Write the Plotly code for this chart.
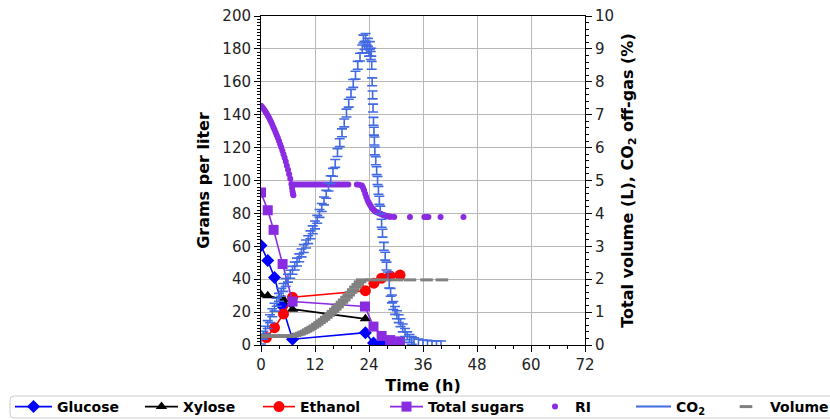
import plotly.graph_objects as go

# ---------------- data ----------------
glc_t = [0, 1.5, 3, 4.7, 7, 23.2, 25, 26.8, 28.7]
glc = [60.5, 51.4, 41, 23.8, 3.5, 7.5, 1.2, 0.4, 0.3]

xyl_t = [0, 1.5, 5, 7, 23.2]
xyl = [30.5, 30, 27.6, 21.8, 15.9]

eth_t = [1.2, 3, 5, 7, 23.2, 25.1, 26.8, 28.7, 30.9]
eth = [4.5, 10.5, 18.9, 29, 33, 37.6, 40.6, 42, 42.5]

ts_t = [0, 1.5, 2.8, 4.8, 7, 23.1, 25, 26.8, 28.7, 30.9]
ts = [92.7, 81.9, 70, 49.2, 26.4, 23.4, 11.2, 5.5, 3, 2.2]

ri_t = [0, 0.25, 0.5, 0.75, 1, 1.25, 1.5, 1.75, 2, 2.25, 2.5, 2.75, 3, 3.25, 3.5,
        3.75, 4, 4.25, 4.5, 4.75, 5, 5.25, 5.5, 5.75, 6, 6.25, 6.5, 6.75, 6.9,
        7.0, 7.1, 7.2,
        7.4, 7.9, 8.4, 8.9, 9.4, 9.9, 10.4, 10.9, 11.4, 11.9, 12.4, 12.9, 13.4,
        13.9, 14.4, 14.9, 15.4, 15.9, 16.4, 16.9, 17.4, 17.9, 18.4, 18.9, 19.4,
        21.3, 21.8,
        22.4, 22.65, 22.9, 23.15, 23.4, 23.65, 23.9, 24.15, 24.4, 24.65, 24.9,
        25.15, 25.4, 25.65, 25.9, 26.15, 26.4, 26.65, 26.9, 27.15, 27.4, 27.65,
        27.9, 28.15, 28.4, 28.65, 28.9,
        29.6, 33.1, 36.3, 36.8, 37.2, 39.9, 45.0]
ri = [145.5, 144.7, 143.8, 142.9, 141.8, 140.7, 139.5, 138.3, 137, 135.5, 134,
      132.4, 130.8, 129.2, 127.5, 125.8, 124, 122.1, 120.2, 118.1, 116, 113.8,
      111.5, 109, 106.5, 103.8, 101, 97.8, 95.5, 93.5, 92, 91,
      97.5, 97.5, 97.5, 97.5, 97.5, 97.5, 97.5, 97.5, 97.5, 97.5, 97.5, 97.5, 97.5,
      97.5, 97.5, 97.5, 97.5, 97.5, 97.5, 97.5, 97.5, 97.5, 97.5, 97.5, 97.5,
      97.5, 97.4,
      97, 95.8, 94, 92, 90, 88.3, 86.8, 85.5, 84.3, 83.3, 82.5,
      81.8, 81.2, 80.8, 80.5, 80.2, 80, 79.7, 79.4, 79.1, 78.9, 78.6,
      78.4, 78.2, 78.1, 78, 77.9,
      77.8, 77.8, 77.8, 77.8, 77.8, 77.8, 77.8]

co2_t = [0, 0.5, 1, 1.5, 2, 2.5, 3, 3.5, 4, 4.5, 5, 5.5, 6, 6.5, 7, 7.5, 8, 8.5,
         9, 9.5, 10, 10.5, 11, 11.5, 12, 12.5, 13, 13.5, 14, 14.5, 15, 15.5, 16,
         16.5, 17, 17.5, 18, 18.5, 19, 19.5, 20, 20.5, 21, 21.5, 22, 22.5, 22.75,
         23, 23.25, 23.5, 23.75, 24, 24.2, 24.4,
         24.5, 24.6, 24.7, 24.8, 24.9, 25.0, 25.1, 25.2, 25.3, 25.5, 25.7, 25.9,
         26.1, 26.3, 26.5, 26.8, 27.0, 27.3, 27.6, 27.9, 28.2, 28.5, 28.8, 29.1,
         29.4, 29.8, 30.2, 30.6, 31.0, 31.5, 32.0, 32.5, 33.0, 33.5, 34, 35, 36,
         37, 38, 39, 40]
co2 = [0.15, 0.3, 0.45, 0.62, 0.8, 0.98, 1.15, 1.3, 1.45, 1.6, 1.75, 1.9, 2.03,
       2.15, 2.27, 2.4, 2.52, 2.65, 2.8, 2.93, 3.07, 3.2, 3.35, 3.5, 3.65, 3.82,
       4.0, 4.18, 4.38, 4.58, 4.8, 5.02, 5.25, 5.52, 5.85, 6.15, 6.45, 6.75, 7.05,
       7.35, 7.65, 7.95, 8.2, 8.5, 8.75, 9.0, 9.3, 9.1, 9.35, 9.0, 9.2, 8.9, 9.1,
       8.8,
       8.9, 8.5, 8.0, 7.6, 7.2, 6.8, 6.5, 6.2, 5.9, 5.6, 5.3, 5.0,
       4.7, 4.4, 4.1, 3.7, 3.4, 3.0, 2.7, 2.4, 2.1, 1.85, 1.6, 1.4,
       1.2, 1.05, 0.92, 0.8, 0.68, 0.52, 0.38, 0.28, 0.2, 0.14, 0.1, 0.06, 0.03,
       0.02, 0.01, 0.0, 0.0]
co2_err = 0.12

vol_t = [0, 0.5, 1, 1.5, 2, 2.5, 3, 3.5, 4, 4.5, 5, 5.5, 6, 6.5, 7,
         7.5, 8, 8.5, 9, 9.5, 10, 10.5, 11, 11.5, 12, 12.5, 13, 13.5, 14, 14.5,
         15, 15.5, 16, 16.5, 17, 17.5, 18, 18.5, 19, 19.5, 20, 20.5, 21, 21.5,
         22, 22.5, 24.6, 27.2, 30.2, 33.1, 36.8, 40.2]
vol = [0.27, 0.27, 0.27, 0.27, 0.27, 0.27, 0.27, 0.27, 0.27, 0.27, 0.27, 0.27,
       0.27, 0.27, 0.27,
       0.29, 0.31, 0.33, 0.36, 0.39, 0.42, 0.46, 0.5, 0.54, 0.58, 0.63, 0.68,
       0.73, 0.78, 0.84, 0.9, 0.96, 1.02, 1.09, 1.16, 1.23, 1.3, 1.37, 1.45,
       1.52, 1.6, 1.68, 1.76, 1.84, 1.92, 1.98, 1.98, 1.98, 1.98, 1.98, 1.98, 1.98]

x_ticks = [0, 12, 24, 36, 48, 60, 72]
y_ticks = [0, 20, 40, 60, 80, 100, 120, 140, 160, 180, 200]
y2_ticks = [0, 1, 2, 3, 4, 5, 6, 7, 8, 9, 10]

# ---------------- layout geometry ----------------
FW, FH = 830, 420
ML, MR, MT, MB = 261, 245, 16, 75
PW = FW - ML - MR
PH = FH - MT - MB


def px_x(px):  # pixel -> paper x
    return (px - ML) / PW


def px_y(py):  # pixel -> paper y
    return (FH - MB - py) / PH


FONT = "DejaVu Sans"
BLUE = "#0000ff"
VIOLET = "#8a2be2"
ROYAL = "#4169e1"
GRAY = "#808080"

fig = go.Figure()

fig.add_trace(go.Scatter(x=glc_t, y=glc, name="Glucose", mode="lines+markers",
                         line=dict(color=BLUE, width=1.6),
                         marker=dict(symbol="diamond", size=10, color=BLUE),
                         legend="legend"))
fig.add_trace(go.Scatter(x=xyl_t, y=xyl, name="Xylose", mode="lines+markers",
                         line=dict(color="black", width=1.6),
                         marker=dict(symbol="triangle-up", size=10, color="black"),
                         legend="legend2"))
fig.add_trace(go.Scatter(x=eth_t, y=eth, name="Ethanol", mode="lines+markers",
                         line=dict(color="red", width=1.6),
                         marker=dict(symbol="circle", size=11, color="red"),
                         legend="legend3"))
fig.add_trace(go.Scatter(x=ts_t, y=ts, name="Total sugars", mode="lines+markers",
                         line=dict(color=VIOLET, width=1.6),
                         marker=dict(symbol="square", size=10, color=VIOLET),
                         legend="legend4"))
fig.add_trace(go.Scatter(x=ri_t, y=ri, name="RI", mode="markers",
                         marker=dict(symbol="circle", size=6, color=VIOLET),
                         legend="legend5"))

fig.add_trace(go.Scatter(x=co2_t, y=co2, name="CO<sub>2</sub>", mode="markers",
                         marker=dict(size=1, color=ROYAL),
                         error_y=dict(type="constant", value=co2_err, color=ROYAL,
                                      thickness=1.6, width=5),
                         yaxis="y2", showlegend=False))
fig.add_trace(go.Scatter(x=[None], y=[None], name="CO<sub>2</sub>", mode="lines",
                         line=dict(color=ROYAL, width=2), yaxis="y2",
                         legend="legend6"))
fig.add_trace(go.Scatter(x=vol_t, y=vol, name="Volume", mode="markers",
                         marker=dict(symbol="line-ew", size=9, color=GRAY,
                                     line=dict(color=GRAY, width=3)),
                         yaxis="y2", legend="legend7"))

axis_common = dict(ticks="outside", ticklen=6, tickwidth=1, tickcolor="black",
                   showline=True, linecolor="black", linewidth=1, zeroline=False,
                   tickfont=dict(family=FONT, size=15, color="#222222"))

fig.update_layout(
    width=FW, height=FH,
    margin=dict(l=ML, r=MR, t=MT, b=MB, autoexpand=False),
    paper_bgcolor="white", plot_bgcolor="white",
    font=dict(family=FONT, color="black"),
    xaxis=dict(range=[0, 72], tickvals=x_ticks, mirror=True,
               showgrid=True, gridcolor="#b8b8b8", gridwidth=1,
               minor=dict(dtick=4, ticks="outside", ticklen=3, tickcolor="black",
                          showgrid=False),
               title=dict(text="Time (h)", standoff=6,
                          font=dict(family=FONT, size=16, weight="bold")),
               **axis_common),
    yaxis=dict(range=[0, 200], tickvals=y_ticks, mirror=True,
               showgrid=True, gridcolor="#b8b8b8", gridwidth=1,
               minor=dict(dtick=2, ticks="outside", ticklen=3, tickcolor="black",
                          showgrid=False),
               title=dict(text="Grams per liter", standoff=8,
                          font=dict(family=FONT, size=16, weight="bold")),
               **axis_common),
    yaxis2=dict(range=[0, 10], tickvals=y2_ticks, overlaying="y", side="right",
                showgrid=False,
                minor=dict(dtick=0.2, ticks="outside", ticklen=3, tickcolor="black",
                           showgrid=False),
                title=dict(text="Total volume (L), CO<sub>2</sub> off-gas (%)", standoff=8,
                           font=dict(family=FONT, size=16, weight="bold")),
                **axis_common),
)

# one legend per entry so the row can run past the window edge like the original
# (x of symbol centre, x of text start)
legend_pos = [(30, 57), (160, 183), (278, 300), (405, 428), (555, 573), (651, 676), (742, 770)]
legend_names = ["legend", "legend2", "legend3", "legend4", "legend5", "legend6", "legend7"]
for name, (cx, tx) in zip(legend_names, legend_pos):
    left = cx - 20
    iw = max(30, tx - left - 10)
    fig.update_layout({name: dict(x=px_x(left), y=px_y(407), xanchor="left",
                                  yanchor="middle", orientation="h", itemwidth=iw,
                                  bgcolor="rgba(0,0,0,0)", borderwidth=0,
                                  font=dict(family=FONT, size=14, weight="bold",
                                            color="black"))})

# legend frame
x0, x1 = px_x(10), px_x(845)
y0, y1 = px_y(418), px_y(396)
rx, ry = 4 / PW, 4 / PH
path = (f"M {x0 + rx},{y1} L {x1},{y1} L {x1},{y0} L {x0 + rx},{y0} "
        f"Q {x0},{y0} {x0},{y0 + ry} L {x0},{y1 - ry} Q {x0},{y1} {x0 + rx},{y1} Z")
fig.add_shape(type="path", path=path, xref="paper", yref="paper",
              line=dict(color="#cccccc", width=1), fillcolor="rgba(255,255,255,0.8)",
              layer="above")

fig.write_html("out.html", config={"displayModeBar": False},
               post_script="document.body.style.margin='0';document.body.style.overflow='hidden';")
